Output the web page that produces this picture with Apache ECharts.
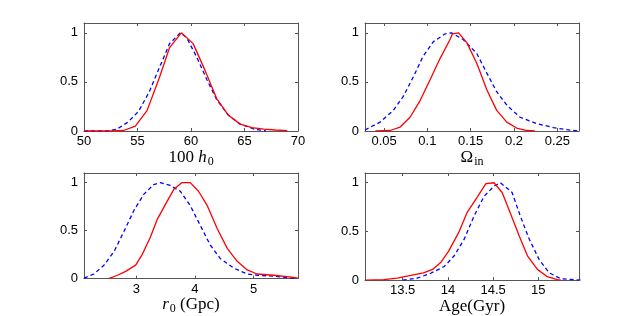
<!DOCTYPE html>
<html><head><meta charset="utf-8">
<script src="https://cdn.jsdelivr.net/npm/echarts@6/dist/echarts.min.js"></script>
<style>html,body{margin:0;padding:0;background:#fff}#c{width:640px;height:316px}</style>
</head><body><div id="c"></div>
<script>
// ---- data ----
const h0RedX = [50, 52.6, 53.7, 54.8, 55.9, 57.0, 58.0, 59.1, 60.2, 61.3, 62.4, 63.5, 64.6, 65.7, 66.8, 67.9, 69.0];
const h0RedY = [0, 0, 0.005, 0.05, 0.21, 0.53, 0.85, 1.0, 0.89, 0.62, 0.33, 0.16, 0.07, 0.035, 0.02, 0.01, 0.003];
const h0BlueX = [50, 52.2, 53.1, 54.1, 55.1, 56.1, 57.1, 58.0, 59.0, 59.6, 60.5, 61.5, 62.4, 63.5, 64.6, 65.9, 67.0];
const h0BlueY = [0, 0, 0.02, 0.09, 0.2, 0.4, 0.66, 0.89, 1.0, 0.95, 0.76, 0.52, 0.32, 0.16, 0.07, 0.02, 0];

const omRedX = [0.040, 0.057, 0.0685, 0.080, 0.0916, 0.103, 0.1147, 0.126, 0.129, 0.136, 0.1455, 0.157, 0.1686, 0.180, 0.1917, 0.203, 0.215, 0.224];
const omRedY = [0, 0.005, 0.04, 0.14, 0.31, 0.52, 0.74, 0.93, 0.99, 1.0, 0.90, 0.69, 0.42, 0.21, 0.09, 0.03, 0.005, 0];
const omBlueX = [0.028, 0.0454, 0.0607, 0.072, 0.084, 0.095, 0.107, 0.1205, 0.128, 0.1416, 0.157, 0.1686, 0.180, 0.192, 0.207, 0.226, 0.2456, 0.261, 0.275];
const omBlueY = [0.01, 0.09, 0.21, 0.35, 0.555, 0.76, 0.91, 0.99, 1.0, 0.93, 0.79, 0.59, 0.40, 0.26, 0.14, 0.076, 0.035, 0.013, 0];

const r0RedX = [2.53, 2.68, 2.82, 2.99, 3.10, 3.24, 3.36, 3.53, 3.64, 3.78, 3.92, 4.06, 4.21, 4.38, 4.55, 4.72, 4.89, 5.06, 5.34, 5.68, 5.75];
const r0RedY = [0, 0.035, 0.075, 0.14, 0.25, 0.43, 0.62, 0.81, 0.93, 1.0, 1.0, 0.91, 0.76, 0.52, 0.315, 0.18, 0.09, 0.048, 0.035, 0.013, 0.005];
const r0BlueX = [2.11, 2.28, 2.45, 2.62, 2.79, 2.96, 3.13, 3.30, 3.41, 3.58, 3.75, 3.92, 4.09, 4.26, 4.43, 4.66, 4.89, 5.06, 5.34, 5.74];
const r0BlueY = [0.005, 0.048, 0.14, 0.28, 0.49, 0.71, 0.88, 0.98, 1.0, 0.97, 0.91, 0.76, 0.555, 0.35, 0.21, 0.11, 0.048, 0.035, 0.025, 0];

const ageRedX = [13.09, 13.29, 13.44, 13.59, 13.73, 13.83, 13.92, 14.01, 14.12, 14.21, 14.33, 14.42, 14.51, 14.60, 14.69, 14.79, 14.88, 14.99, 15.10, 15.21, 15.25];
const ageRedY = [0, 0.005, 0.02, 0.048, 0.075, 0.11, 0.18, 0.30, 0.49, 0.69, 0.86, 0.99, 1.0, 0.90, 0.69, 0.45, 0.25, 0.11, 0.035, 0.005, 0];
const ageBlueX = [13.50, 13.66, 13.81, 13.96, 14.07, 14.18, 14.29, 14.40, 14.51, 14.58, 14.71, 14.80, 14.90, 15.01, 15.12, 15.25, 15.47];
const ageBlueY = [0, 0.02, 0.07, 0.14, 0.25, 0.42, 0.66, 0.86, 0.965, 1.0, 0.9, 0.66, 0.42, 0.21, 0.075, 0.013, 0];

const xTicks = [[50, 55, 60, 65, 70], [0.05, 0.1, 0.15, 0.2, 0.25], [3, 4, 5], [13.5, 14, 14.5, 15]];
const xRanges = [[50, 70], [0.028, 0.275], [2.11, 5.755], [13.083, 15.45]];
const yTicks = [0, 0.5, 1];
const yRange = [0, 1.1];

// ---- build ----
const zip = (a, b) => a.map((v, i) => [v, b[i]]);
const panels = [
  { red: zip(h0RedX, h0RedY), blue: zip(h0BlueX, h0BlueY), name: '{n|100 }{i|h}{s|0}' },
  { red: zip(omRedX, omRedY), blue: zip(omBlueX, omBlueY), name: '{n|Ω}{s|in}' },
  { red: zip(r0RedX, r0RedY), blue: zip(r0BlueX, r0BlueY), name: '{i|r}{s|0}{n| (Gpc)}' },
  { red: zip(ageRedX, ageRedY), blue: zip(ageBlueX, ageBlueY), name: '{n|Age(Gyr)}' }
];
const gridPos = [
  { left: 84, top: 23, width: 214, height: 108 },
  { left: 365, top: 23, width: 214, height: 108 },
  { left: 84, top: 173, width: 214, height: 108 },
  { left: 365, top: 173, width: 214, height: 108 }
];
const frame = '#555';
const serif = 'Liberation Serif';
const rich = {
  n: { fontFamily: serif, fontSize: 17, color: '#000' },
  i: { fontFamily: serif, fontSize: 17, fontStyle: 'italic', color: '#000' },
  s: { fontFamily: serif, fontSize: 12, color: '#000', padding: [8, 0, 0, 1] }
};
const xAxis = [], yAxis = [], series = [];
panels.forEach((p, k) => {
  const base = { type: 'value', gridIndex: k, min: xRanges[k][0], max: xRanges[k][1],
    splitLine: { show: false },
    axisLine: { show: true, onZero: false, lineStyle: { color: frame, width: 1 } },
    axisTick: { show: true, inside: true, length: 3, customValues: xTicks[k], lineStyle: { color: frame } } };
  xAxis.push(Object.assign({}, base, { position: 'bottom',
    axisLabel: { show: true, customValues: xTicks[k], color: '#000', fontSize: 13, fontFamily: 'Liberation Sans', margin: 4 },
    name: p.name, nameLocation: 'middle', nameGap: 16,
    nameTextStyle: { rich: rich, fontFamily: serif, fontSize: 17, color: '#000', verticalAlign: 'top' } }));
  xAxis.push(Object.assign({}, base, { position: 'top', axisLabel: { show: false } }));
  const ybase = { type: 'value', gridIndex: k, min: yRange[0], max: yRange[1],
    splitLine: { show: false },
    axisLine: { show: true, onZero: false, lineStyle: { color: frame, width: 1 } },
    axisTick: { show: true, inside: true, length: 3, customValues: yTicks, lineStyle: { color: frame } } };
  yAxis.push(Object.assign({}, ybase, { position: 'left',
    axisLabel: { show: true, customValues: yTicks, color: '#000', fontSize: 13, fontFamily: 'Liberation Sans', margin: 6 } }));
  yAxis.push(Object.assign({}, ybase, { position: 'right', axisLabel: { show: false } }));
  series.push({ type: 'line', xAxisIndex: 2 * k, yAxisIndex: 2 * k, data: p.blue, showSymbol: false, animation: false,
    lineStyle: { color: '#0000ff', width: 1.3, type: [4, 3] }, z: 2 });
  series.push({ type: 'line', xAxisIndex: 2 * k, yAxisIndex: 2 * k, data: p.red, showSymbol: false, animation: false,
    lineStyle: { color: '#ff0000', width: 1.3 }, z: 3 });
});
const chart = echarts.init(document.getElementById('c'), null, { renderer: 'canvas' });
chart.setOption({ backgroundColor: '#fff', animation: false, grid: gridPos, xAxis, yAxis, series });
</script></body></html>
